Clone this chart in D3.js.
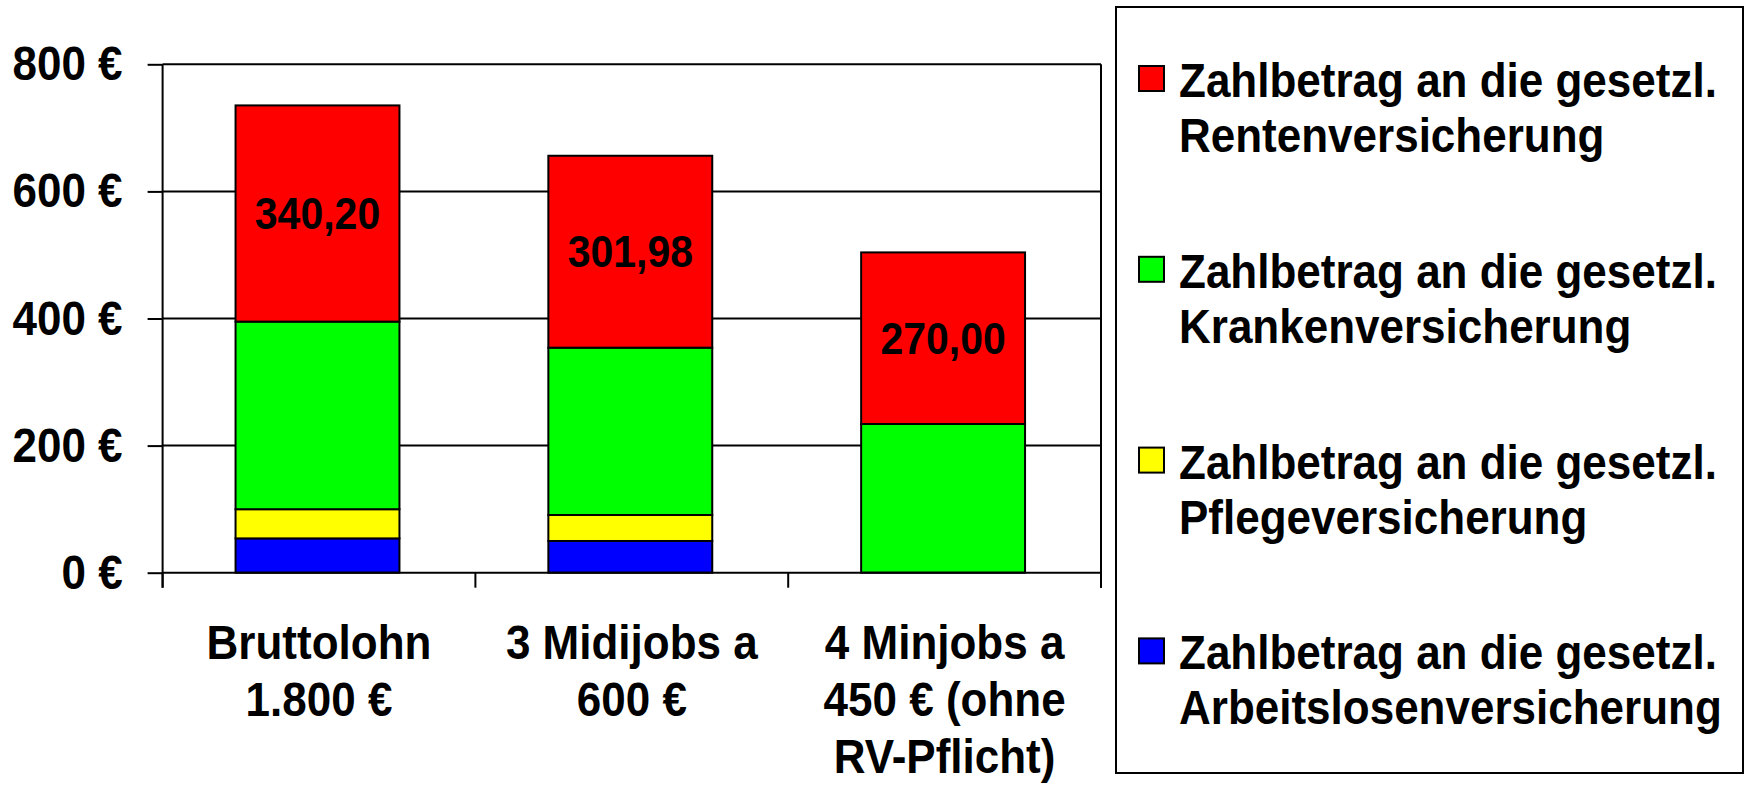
<!DOCTYPE html>
<html>
<head>
<meta charset="utf-8">
<script src="https://cdn.jsdelivr.net/npm/d3@7"></script>
<style>
  body { margin: 0; background: #fff; }
  svg { display: block; font-family: "Liberation Sans", Arial, sans-serif; font-weight: bold; }
</style>
</head>
<body>
<svg id="chart" width="1746" height="786"></svg>
<script>
// categories (multi-line labels)
const categories = ["Bruttolohn 1.800 €", "3 Midijobs a 600 €", "4 Minjobs a 450 € (ohne RV-Pflicht)"];
const category_lines = [["Bruttolohn", "1.800 €"], ["3 Midijobs a", "600 €"], ["4 Minjobs a", "450 € (ohne", "RV-Pflicht)"]];

// series, stacked bottom to top
const series_keys = ["av", "pv", "kv", "rv"];
const av_values = [54.00, 49.90, 0];
const pv_values = [45.90, 40.90, 0];
const kv_values = [295.20, 263.30, 234.00];
const rv_values = [340.20, 301.98, 270.00];
const rv_labels = ["340,20", "301,98", "270,00"];

const y_ticks = [0, 200, 400, 600, 800];

// legend order (top to bottom)
const legend_keys = ["rv", "kv", "pv", "av"];
const legend_lines = {
    rv: ["Zahlbetrag an die gesetzl.", "Rentenversicherung"],
    kv: ["Zahlbetrag an die gesetzl.", "Krankenversicherung"],
    pv: ["Zahlbetrag an die gesetzl.", "Pflegeversicherung"],
    av: ["Zahlbetrag an die gesetzl.", "Arbeitslosenversicherung"]
};
const colors = { rv: "#FF0000", kv: "#00FF00", pv: "#FFFF00", av: "#0000FF" };

const plot_left = 162.6, plot_right = 1101, plot_top = 64.3, plot_bottom = 572.7;
const stretch = 1.1; // the original lettering is a bit taller than Liberation Sans

const svg = d3.select("#chart");

let rows = categories.map((c, i) => ({ cat: c, av: av_values[i], pv: pv_values[i], kv: kv_values[i], rv: rv_values[i] }));
let stacked = d3.stack().keys(series_keys)(rows);

let x_scale = d3.scaleBand()
    .domain(categories)
    .range([plot_left, plot_right])
    .padding(0);
let y_scale = d3.scaleLinear()
    .domain([0, 800])
    .range([plot_bottom, plot_top]);

let bar_w = x_scale.bandwidth() * 0.524;
let bar_x = d => x_scale(d.data.cat) + (x_scale.bandwidth() - bar_w) / 2 - 1.5;

// gridlines
svg.append("g")
    .selectAll("line")
    .data(y_ticks.slice(1))
    .join("line")
    .attr("x1", plot_left).attr("x2", plot_right)
    .attr("y1", d => y_scale(d)).attr("y2", d => y_scale(d))
    .attr("stroke", "#000").attr("stroke-width", 2);

// y axis
let y_axis = d3.axisLeft(y_scale)
    .tickValues(y_ticks)
    .tickSize(15)
    .tickPadding(25)
    .tickFormat(d => d + " €");
let y_axis_group = svg.append("g")
    .attr("transform", `translate(${plot_left}, 0)`)
    .call(y_axis);
y_axis_group.select(".domain").remove();
y_axis_group.selectAll(".tick line").attr("stroke", "#000").attr("stroke-width", 2);
y_axis_group.selectAll(".tick text")
    .attr("fill", "#000")
    .attr("transform", `scale(1, ${stretch})`)
    .style("font-size", "44px")
    .style("font-family", "'Liberation Sans', Arial, sans-serif")
    .style("font-weight", "bold");

// bars
svg.append("g")
    .selectAll("g")
    .data(stacked)
    .join("g")
    .attr("fill", d => colors[d.key])
    .selectAll("rect")
    .data(d => d.filter(s => s[1] - s[0] > 0))
    .join("rect")
    .attr("x", bar_x)
    .attr("width", bar_w)
    .attr("y", d => y_scale(d[1]))
    .attr("height", d => y_scale(d[0]) - y_scale(d[1]))
    .attr("stroke", "#000")
    .attr("stroke-width", 2);

// value labels inside the red segments
let rv_layer = stacked.find(s => s.key === "rv");
svg.append("g")
    .selectAll("text")
    .data(rv_layer)
    .join("text")
    .attr("transform", d => `translate(${bar_x(d) + bar_w / 2}, ${(y_scale(d[0]) + y_scale(d[1])) / 2}) scale(1, ${stretch})`)
    .attr("text-anchor", "middle")
    .attr("dominant-baseline", "central")
    .style("font-size", "41px")
    .text((d, i) => rv_labels[i]);

// axis lines: left axis, right border, baseline
svg.append("line")
    .attr("x1", plot_left).attr("x2", plot_left)
    .attr("y1", plot_top).attr("y2", plot_bottom + 15)
    .attr("stroke", "#000").attr("stroke-width", 2);
svg.append("line")
    .attr("x1", plot_right).attr("x2", plot_right)
    .attr("y1", plot_top).attr("y2", plot_bottom + 15)
    .attr("stroke", "#000").attr("stroke-width", 2);
svg.append("line")
    .attr("x1", plot_left).attr("x2", plot_right)
    .attr("y1", plot_bottom).attr("y2", plot_bottom)
    .attr("stroke", "#000").attr("stroke-width", 2);

// category boundary ticks
let boundaries = categories.map(c => x_scale(c)).concat([plot_right]);
svg.append("g")
    .selectAll("line")
    .data(boundaries)
    .join("line")
    .attr("x1", d => d).attr("x2", d => d)
    .attr("y1", plot_bottom).attr("y2", plot_bottom + 15)
    .attr("stroke", "#000").attr("stroke-width", 2);

// category labels
svg.append("g")
    .selectAll("text")
    .data(categories)
    .join("text")
    .attr("text-anchor", "middle")
    .attr("transform", c => `translate(${x_scale(c) + x_scale.bandwidth() / 2}, 659) scale(1, ${stretch})`)
    .style("font-size", "44px")
    .each(function (c, i) {
        d3.select(this).selectAll("tspan")
            .data(category_lines[i])
            .join("tspan")
            .attr("x", 0)
            .attr("y", (d, j) => j * 57 / stretch)
            .text(d => d);
    });

// legend
let legend = svg.append("g");
legend.append("rect")
    .attr("x", 1116).attr("y", 7)
    .attr("width", 627).attr("height", 766)
    .attr("fill", "#fff")
    .attr("stroke", "#000").attr("stroke-width", 2);

let legend_items = legend.selectAll("g.item")
    .data(legend_keys)
    .join("g")
    .attr("class", "item")
    .attr("transform", (d, i) => `translate(1139, ${66 + i * 190.8})`);
legend_items.append("rect")
    .attr("width", 25).attr("height", 25)
    .attr("fill", d => colors[d])
    .attr("stroke", "#000").attr("stroke-width", 2);
legend_items.append("text")
    .attr("transform", `translate(40, 31) scale(1, ${stretch})`)
    .style("font-size", "44px")
    .selectAll("tspan")
    .data(d => legend_lines[d])
    .join("tspan")
    .attr("x", 0)
    .attr("y", (d, j) => j * 55 / stretch)
    .text(d => d);
</script>
</body>
</html>
